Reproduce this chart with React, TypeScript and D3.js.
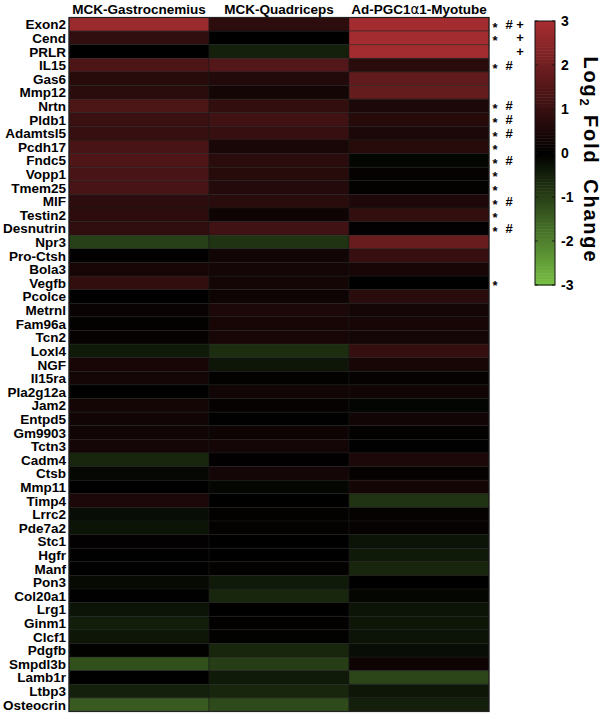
import React from "react";
import * as d3 from "d3";

// gene rows, top to bottom
const genes = [
  "Exon2", "Cend", "PRLR", "IL15", "Gas6", "Mmp12", "Nrtn", "Pldb1", "Adamtsl5",
  "Pcdh17", "Fndc5", "Vopp1", "Tmem25", "MIF", "Testin2", "Desnutrin", "Npr3",
  "Pro-Ctsh", "Bola3", "Vegfb", "Pcolce", "Metrnl", "Fam96a", "Tcn2", "Loxl4",
  "NGF", "Il15ra", "Pla2g12a", "Jam2", "Entpd5", "Gm9903", "Tctn3", "Cadm4",
  "Ctsb", "Mmp11", "Timp4", "Lrrc2", "Pde7a2", "Stc1", "Hgfr", "Manf", "Pon3",
  "Col20a1", "Lrg1", "Ginm1", "Clcf1", "Pdgfb", "Smpdl3b", "Lamb1r", "Ltbp3",
  "Osteocrin",
];

const columns = ["MCK-Gastrocnemius", "MCK-Quadriceps", "Ad-PGC1\u03b11-Myotube"];

// log2 fold change
const gastro = [
  2.75, 0.85, 0.02, 1.4, 0.7, 0.75, 1.35, 1.05, 1.0, 1.3, 1.43, 1.3, 1.3, 0.8, 0.8, 0.85,
  -1.0, 0.03, 0.42, 0.9, 0.02, 0.17, 0.08, 0.12, -0.4, 0.42, 0.35, 0.04, 0.38, 0.3, 0.3,
  0.35, -0.6, -0.12, 0.02, 0.5, -0.2, -0.3, 0.05, 0.04, 0.02, -0.15, 0.04, -0.3, -0.45,
  -0.35, -0.05, -1.25, 0.0, -0.5, -1.4,
];
const quad = [
  0.8, 0.0, -0.5, 1.5, 0.6, 0.38, 0.9, 1.15, 1.0, 0.45, 0.75, 0.7, 0.65, 0.75, 0.25, 1.15,
  -0.8, 0.3, 0.35, 0.38, 0.25, 0.5, 0.42, 0.42, -0.7, -0.35, 0.08, 0.3, 0.12, 0.04, 0.25,
  0.35, 0.03, 0.35, -0.1, 0.0, 0.08, 0.08, 0.0, 0.0, 0.07, -0.4, -0.6, 0.0, 0.08, -0.05,
  -0.6, -0.95, -0.4, -0.6, -1.15,
];
const myotube = [
  2.9, 2.9, 2.9, 0.75, 1.75, 1.8, 0.5, 0.7, 0.5, 0.7, -0.1, 0.1, 0.08, 0.55, 0.9, 0.06,
  1.85, 1.0, 0.42, 0.02, 0.75, 0.35, 0.42, 0.35, 0.95, 0.42, 0.12, 0.3, -0.08, 0.3, 0.08,
  0.04, 0.5, 0.12, 0.38, -0.8, 0.1, 0.12, -0.3, -0.4, -0.6, 0.0, -0.1, -0.3, -0.35,
  -0.3, -0.2, 0.25, -1.1, -0.35, -0.5,
];

// significance marks
const starGenes = ["Exon2", "Cend", "IL15", "Nrtn", "Pldb1", "Adamtsl5", "Pcdh17", "Fndc5", "Vopp1", "Tmem25", "MIF", "Testin2", "Desnutrin", "Vegfb"];
const hashGenes = ["Exon2", "IL15", "Nrtn", "Pldb1", "Adamtsl5", "Fndc5", "MIF", "Desnutrin"];
const plusGenes = ["Exon2", "Cend", "PRLR"];

const legendTicks = [3, 2, 1, 0, -1, -2, -3];

const FONT = "'Liberation Sans', Arial, Helvetica, sans-serif";

export default function App() {
  const width = 603;
  const height = 715;
  const left = 69;
  const right = 489;
  const top = 17.5;
  const bottom = 711.5;

  const series = [gastro, quad, myotube];

  const x = d3.scaleBand<string>().domain(columns).range([left, right]);
  const y = d3.scaleBand<string>().domain(genes).range([top, bottom]);

  const color = d3
    .scaleLinear<string>()
    .domain([-3, 0, 3])
    .range(["#78c044", "#000000", "#a82e31"])
    .clamp(true);

  // colorbar
  const barX = 535;
  const barW = 20;
  const yBar = d3.scaleLinear().domain([-3, 3]).range([285, 21]);
  const step = 6 / 90;
  const steps = d3.range(-3, 3 - step / 2, step);

  return (
    <svg
      width={width}
      height={height}
      style={{ position: "absolute", left: 0, top: 0, background: "#fff" }}
      fontFamily={FONT}
      fontWeight="bold"
    >
      {/* column headers */}
      {columns.map((c) => (
        <text
          key={c}
          x={x(c)! + x.bandwidth() / 2}
          y={14}
          textAnchor="middle"
          fontSize={13.5}
        >
          {c.includes("\u03b1") ? (
            <>
              Ad-PGC1<tspan fontFamily="'DejaVu Sans', sans-serif" fontWeight="normal">{"\u03b1"}</tspan>1-Myotube
            </>
          ) : (
            c
          )}
        </text>
      ))}

      {/* cells */}
      {columns.map((c, ci) =>
        genes.map((g, gi) => (
          <rect
            key={c + g}
            x={x(c)}
            y={y(g)}
            width={x.bandwidth()}
            height={y.bandwidth()}
            fill={color(series[ci][gi])}
            stroke="#1a1a1a"
            strokeOpacity={0.6}
            strokeWidth={0.8}
          />
        ))
      )}
      <rect
        x={left}
        y={top}
        width={right - left}
        height={bottom - top}
        fill="none"
        stroke="#222"
        strokeWidth={1.2}
      />

      {/* row labels */}
      {genes.map((g) => (
        <text
          key={g}
          x={left - 3}
          y={y(g)! + y.bandwidth() / 2 + 5}
          textAnchor="end"
          fontSize={13.5}
        >
          {g}
        </text>
      ))}

      {/* significance */}
      {genes.map((g) => {
        const cy = y(g)! + y.bandwidth() / 2;
        return (
          <g key={"sig" + g} fontSize={13}>
            {starGenes.includes(g) && (
              <text x={495} y={cy + 7.5} textAnchor="middle">*</text>
            )}
            {hashGenes.includes(g) && (
              <text x={509} y={cy + 4.5} textAnchor="middle">#</text>
            )}
            {plusGenes.includes(g) && (
              <text x={520} y={cy + 4.5} textAnchor="middle">+</text>
            )}
          </g>
        );
      })}

      {/* colorbar */}
      {steps.map((v) => (
        <rect
          key={"cb" + v}
          x={barX}
          y={yBar(v + step)}
          width={barW}
          height={yBar(v) - yBar(v + step) + 0.5}
          fill={color(v + step / 2)}
        />
      ))}
      <rect x={barX} y={21} width={barW} height={264} fill="none" stroke="#111" strokeWidth={1} />
      {legendTicks.map((t) => (
        <g key={"t" + t}>
          <line x1={barX} x2={barX + 3} y1={yBar(t)} y2={yBar(t)} stroke="#111" strokeWidth={0.8} />
          <line x1={barX + barW - 3} x2={barX + barW} y1={yBar(t)} y2={yBar(t)} stroke="#111" strokeWidth={0.8} />
          <text x={561} y={yBar(t) + 5} fontSize={14}>
            {t}
          </text>
        </g>
      ))}
      <text
        transform={`translate(584,159) rotate(90)`}
        textAnchor="middle"
        fontSize={20}
        textLength={205}
        lengthAdjust="spacing"
      >
        Log<tspan fontSize={13} dy={4}>2</tspan>
        <tspan dy={-4}>{" Fold\u00a0\u00a0Change"}</tspan>
      </text>
    </svg>
  );
}
